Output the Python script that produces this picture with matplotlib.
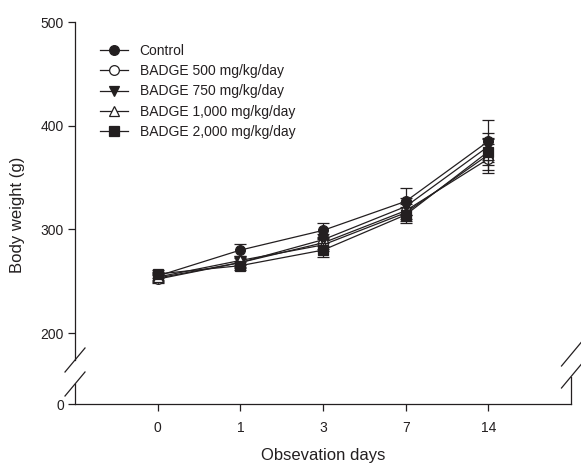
import matplotlib
matplotlib.use("Agg")
import matplotlib.pyplot as plt
from matplotlib.lines import Line2D

plt.rcParams['font.family'] = ['Liberation Sans', 'DejaVu Sans']
INK = '#231f20'
plt.rcParams['text.color'] = INK
plt.rcParams['xtick.color'] = INK
plt.rcParams['ytick.color'] = INK

# --- data ---
days = ["0", "1", "3", "7", "14"]
labels = ["Control", "BADGE 500 mg/kg/day", "BADGE 750 mg/kg/day",
          "BADGE 1,000 mg/kg/day", "BADGE 2,000 mg/kg/day"]
control = [255, 280, 299, 327, 385]
badge500 = [252, 268, 287, 318, 368]
badge750 = [253, 268, 290, 322, 380]
badge1000 = [254, 270, 285, 316, 372]
badge2000 = [257, 265, 280, 314, 375]
control_err = [4, 6, 7, 13, 20]
badge500_err = [4, 4, 6, 8, 14]
badge750_err = [4, 5, 6, 8, 13]
badge1000_err = [4, 4, 6, 8, 15]
badge2000_err = [4, 4, 7, 8, 13]

series = [control, badge500, badge750, badge1000, badge2000]
errors = [control_err, badge500_err, badge750_err, badge1000_err, badge2000_err]
markers = ['o', 'o', 'v', '^', 's']
faces = [INK, 'white', INK, 'white', INK]

W, H = 581, 465
fig = plt.figure(figsize=(W / 100, H / 100), dpi=100)

left = 75 / W
width = (571 - 75) / W
ax = fig.add_axes([left, 1 - 360 / H, width, 338 / H])
axb = fig.add_axes([left, 1 - 404 / H, width, 20 / H])

x = list(range(len(days)))
for vals, err, m, fc, lab in zip(series, errors, markers, faces, labels):
    ax.errorbar(x, vals, yerr=err, fmt='none', ecolor=INK, elinewidth=0.9,
                capsize=4, capthick=0.9)
    ax.plot(x, vals, color=INK, lw=0.9, marker=m, markersize=7,
            markerfacecolor=fc, markeredgecolor=INK, markeredgewidth=0.9,
            label=lab)

ax.set_xlim(-1, 5)
ax.set_ylim(174, 500)
ax.set_yticks([200, 300, 400, 500])
ax.set_xticks([])
for s in ['top', 'right', 'bottom']:
    ax.spines[s].set_visible(False)
ax.spines['left'].set_linewidth(0.9)
ax.spines['left'].set_color(INK)
ax.tick_params(axis='y', direction='out', length=5, width=0.9, labelsize=10, pad=3)

axb.set_xlim(-1, 5)
axb.set_ylim(0, 19.3)
axb.set_yticks([0])
axb.set_xticks(x)
axb.set_xticklabels(days)
for s in ['top', 'right']:
    axb.spines[s].set_visible(False)
for s in ['left', 'bottom']:
    axb.spines[s].set_linewidth(0.9)
    axb.spines[s].set_color(INK)
axb.tick_params(axis='both', direction='out', length=5, width=0.9, labelsize=10, pad=3)
axb.tick_params(axis='x', pad=7)

# right-hand lower segment and break marks
def fl(x0, y0, x1, y1):
    fig.add_artist(Line2D([x0 / W, x1 / W], [1 - y0 / H, 1 - y1 / H],
                          color=INK, lw=0.9))

fl(571, 377, 571, 404)
for cx, cy in [(75, 360), (75, 384), (571.5, 354), (571.5, 376)]:
    fl(cx - 10, cy + 12, cx + 10, cy - 12)

fig.text(18 / W, 1 - 215 / H, "Body weight (g)", rotation=90,
         ha='center', va='center', fontsize=12)
fig.text(323 / W, 1 - 455 / H, "Obsevation days", ha='center', va='center',
         fontsize=12)

ax.legend(loc='upper left', bbox_to_anchor=(100 / W, 1 - 44 / H),
          bbox_transform=fig.transFigure, frameon=False, fontsize=10,
          handlelength=2.0, handletextpad=0.85, labelspacing=0.45,
          borderpad=0, borderaxespad=0, numpoints=1)

fig.savefig("out.png", dpi=100)
